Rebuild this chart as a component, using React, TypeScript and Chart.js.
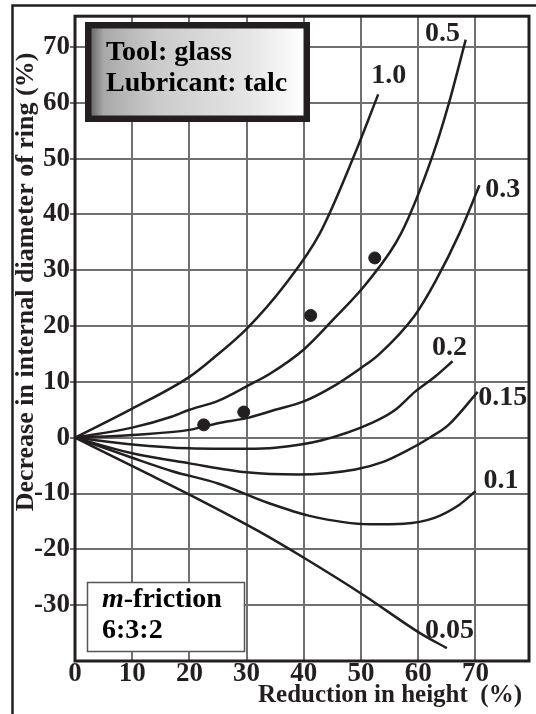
import React, { useEffect, useRef } from "react";
import { Chart, registerables } from "chart.js";

Chart.register(...registerables);

// ---- data ----
const xTickValues = [0, 10, 20, 30, 40, 50, 60, 70];
const yTickValues = [-30, -20, -10, 0, 10, 20, 30, 40, 50, 60, 70];

const m100X = [0, 10, 20, 24, 30, 36.7, 42.8, 48.9, 53];
const m100Y = [0, 5.2, 10.9, 14.1, 19.5, 27.4, 36.6, 50.8, 61.5];

const m050X = [0, 10, 17, 20, 25, 30, 34, 40, 45, 51, 57, 62.6, 65.3, 68.3];
const m050Y = [0, 1.8, 3.8, 5, 6.6, 9.2, 11.4, 15.8, 21, 27.7, 36.6, 50.8, 59.7, 71.3];

const m030X = [0, 10, 20, 25, 30, 35, 40, 45, 50, 53, 59.4, 63, 67.2, 70.7];
const m030Y = [0, 0.5, 1.4, 2.6, 3.5, 5, 6.5, 9.1, 12.5, 14.8, 21.9, 28, 36.6, 45.2];

const m020X = [0, 10, 20, 30, 35, 43, 52, 56, 59.4, 63, 66];
const m020Y = [0, -1.2, -1.9, -2, -1.8, -0.5, 2.7, 5, 8.2, 11, 13.7];

const m015X = [0, 10, 20, 30, 39, 49, 54, 57.7, 62, 65.3, 70.4];
const m015Y = [0, -2.8, -4.6, -6.2, -6.6, -5.7, -4.3, -2.5, 0, 2.3, 8.2];

const m010X = [0, 10, 17, 25, 33.8, 41, 51.6, 57.5, 62.7, 67.2, 70];
const m010Y = [0, -3.6, -6, -8.2, -11.7, -14, -15.5, -15.4, -14.4, -12, -9.6];

const m005X = [0, 11.8, 20, 32, 39.5, 50.6, 60.3, 65];
const m005Y = [0, -6, -10.2, -16.7, -21.2, -28.3, -35, -37.7];

const expX = [22.5, 29.5, 41.2, 52.4];
const expY = [2.3, 4.6, 21.9, 32.2];

const curveLabels = ["1.0", "0.5", "0.3", "0.2", "0.15", "0.1", "0.05"];
const curveLabelX = [51.8, 61.2, 71.7, 62.4, 70.5, 71.4, 61.2];
const curveLabelY = [63.6, 71.1, 43.1, 14.8, 5.9, -9.1, -35.8];

const xTitle = "Reduction in height  (%)";
const yTitle = "Decrease in internal diameter of ring (%)";
const boxLines = ["Tool: glass", "Lubricant: talc"];
const frictionWord = "-friction";
const frictionRatio = "6:3:2";

const INK = "#231f20";
const SERIF = "'Liberation Serif', 'Times New Roman', serif";

const pts = (xs: number[], ys: number[]) => xs.map((x, i) => ({ x, y: ys[i] }));

const curve = (xs: number[], ys: number[]) => ({
  type: "line" as const,
  data: pts(xs, ys),
  borderColor: INK,
  borderWidth: 2.5,
  pointRadius: 0,
  fill: false,
  cubicInterpolationMode: "monotone" as const,
});

const decorPlugin = {
  id: "decor",
  afterDraw(chart: any) {
    const { ctx, chartArea: a, scales } = chart;
    const xs = scales.x;
    const ys = scales.y;
    ctx.save();
    // plot frame
    ctx.strokeStyle = INK;
    ctx.lineWidth = 3;
    ctx.strokeRect(a.left, a.top, a.right - a.left, a.bottom - a.top);
    // outer frame (left & top)
    ctx.lineWidth = 2.5;
    ctx.beginPath();
    ctx.moveTo(12.5, 714);
    ctx.lineTo(12.5, 5.5);
    ctx.lineTo(536, 5.5);
    ctx.stroke();

    // curve labels
    ctx.fillStyle = INK;
    ctx.font = `bold 28px ${SERIF}`;
    ctx.textAlign = "left";
    ctx.textBaseline = "alphabetic";
    curveLabels.forEach((t, i) => {
      ctx.fillText(t, xs.getPixelForValue(curveLabelX[i]), ys.getPixelForValue(curveLabelY[i]));
    });

    // tool / lubricant box
    const bx = 85, by = 22, bw = 225, bh = 100;
    const g = ctx.createLinearGradient(bx + 6, 0, bx + bw - 6, 0);
    g.addColorStop(0, "#6a6a6a");
    g.addColorStop(0.06, "#a9a9a9");
    g.addColorStop(0.3, "#cacaca");
    g.addColorStop(0.75, "#e6e6e6");
    g.addColorStop(1, "#ffffff");
    ctx.fillStyle = g;
    ctx.fillRect(bx, by, bw, bh);
    ctx.strokeStyle = INK;
    ctx.lineWidth = 6.5;
    ctx.strokeRect(bx + 3.25, by + 3.25, bw - 6.5, bh - 6.5);
    ctx.fillStyle = "#000";
    ctx.font = `bold 28px ${SERIF}`;
    ctx.fillText(boxLines[0], 106, 60);
    ctx.fillText(boxLines[1], 106, 91);

    // m-friction box
    ctx.fillStyle = "#fff";
    ctx.fillRect(87, 582, 158, 70);
    ctx.strokeStyle = "#555";
    ctx.lineWidth = 1.5;
    ctx.strokeRect(87.5, 582.5, 157, 69);
    ctx.fillStyle = "#000";
    ctx.font = `italic bold 28px ${SERIF}`;
    ctx.fillText("m", 102, 607);
    const mw = ctx.measureText("m").width;
    ctx.font = `bold 28px ${SERIF}`;
    ctx.fillText(frictionWord, 102 + mw, 607);
    ctx.fillText(frictionRatio, 102, 638);

    // axis titles
    ctx.fillStyle = INK;
    ctx.font = `bold 25px ${SERIF}`;
    ctx.textAlign = "center";
    ctx.fillText(xTitle, 390, 702);
    ctx.save();
    ctx.translate(33, 282);
    ctx.rotate(-Math.PI / 2);
    ctx.font = `bold 26px ${SERIF}`;
    ctx.fillText(yTitle, 0, 0);
    ctx.restore();
    ctx.restore();
  },
};

export default function App() {
  const ref = useRef<HTMLCanvasElement | null>(null);
  useEffect(() => {
    if (!ref.current) return;
    const chart = new Chart(ref.current, {
      type: "line",
      data: {
        datasets: [
          curve(m100X, m100Y),
          curve(m050X, m050Y),
          curve(m030X, m030Y),
          curve(m020X, m020Y),
          curve(m015X, m015Y),
          curve(m010X, m010Y),
          curve(m005X, m005Y),
          {
            type: "scatter" as const,
            data: pts(expX, expY),
            backgroundColor: INK,
            borderColor: INK,
            pointRadius: 6,
            showLine: false,
          } as any,
        ],
      },
      options: {
        responsive: false,
        animation: false,
        devicePixelRatio: 1,
        layout: { padding: { left: 0, top: 12, right: 3, bottom: 0 } },
        plugins: { legend: { display: false }, tooltip: { enabled: false } },
        scales: {
          x: {
            type: "linear",
            min: 0,
            max: 79.36,
            afterBuildTicks: (s: any) => {
              s.ticks = xTickValues.map((v) => ({ value: v }));
            },
            afterFit: (s: any) => {
              s.height = 53;
            },
            grid: { color: "#6f7072", lineWidth: 2, drawTicks: false, tickLength: 0 },
            border: { display: false },
            ticks: {
              padding: 0,
              color: INK,
              maxRotation: 0,
              autoSkip: false,
              font: { family: SERIF, size: 27, weight: "bold", lineHeight: 1 },
            },
          },
          y: {
            type: "linear",
            min: -40,
            max: 75.5,
            afterBuildTicks: (s: any) => {
              s.ticks = yTickValues.map((v) => ({ value: v }));
            },
            afterFit: (s: any) => {
              s.width = 75;
            },
            grid: { color: "#6f7072", lineWidth: 2, tickLength: 5 },
            border: { display: false },
            ticks: {
              padding: 0,
              color: INK,
              autoSkip: false,
              font: { family: SERIF, size: 27, weight: "bold" },
            },
          },
        },
      },
      plugins: [decorPlugin],
    } as any);
    return () => chart.destroy();
  }, []);
  return (
    <div style={{ position: "absolute", left: 0, top: 0, width: 536, height: 714, background: "#fff" }}>
      <canvas ref={ref} width={536} height={714} style={{ width: 536, height: 714, display: "block" }} />
    </div>
  );
}
